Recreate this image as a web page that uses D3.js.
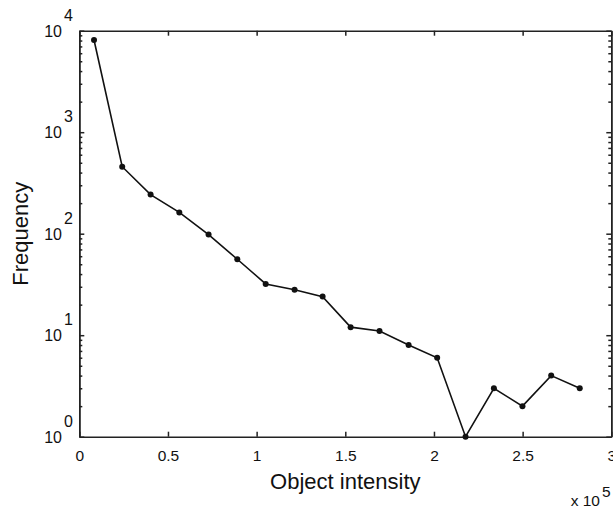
<!DOCTYPE html>
<html>
<head>
<meta charset="utf-8">
<script src="https://cdn.jsdelivr.net/npm/d3@7"></script>
<style>
  body { margin: 0; background: #fff; }
  text { font-family: "Liberation Sans", Arial, sans-serif; fill: #111; }
  .axis path, .axis line { stroke: #222; stroke-width: 1.5; }
  .axis text { font-size: 15.5px; }
</style>
</head>
<body>
<div id="chart"></div>
<script>
// histogram bin centres (x 10^5) and counts
var intensity = [0.083, 0.242, 0.402, 0.564, 0.729, 0.891, 1.051, 1.214, 1.372,
                 1.530, 1.693, 1.857, 2.018, 2.178, 2.338, 2.499, 2.661, 2.822];
var frequency = [8100, 457, 243, 162, 98, 56, 32, 28, 24,
                 12, 11, 8, 6, 1, 3, 2, 4, 3];

var xTicks = [0, 0.5, 1, 1.5, 2, 2.5, 3];
var xTickLabels = ["0", "0.5", "1", "1.5", "2", "2.5", "3"];
var yDecades = [1, 10, 100, 1000, 10000];
var yExponents = ["0", "1", "2", "3", "4"];

var data = intensity.map(function(d, i) { return {x: d, y: frequency[i]}; });

var W = 613, H = 508;
var margin = {top: 30.7, right: 1.7, bottom: 71.3, left: 79.3},
    width = W - margin.left - margin.right,
    height = H - margin.top - margin.bottom;

var xScale = d3.scaleLinear().domain([0, 3]).range([0, width]);
var yScale = d3.scaleLog().domain([1, 10000]).range([height, 0]);

// minor ticks 2..9 within each decade
var yMinor = [];
yDecades.slice(0, -1).forEach(function(d) {
    for (var k = 2; k <= 9; k++) yMinor.push(d * k);
});

var svg = d3.select("#chart").append("svg")
    .attr("width", W)
    .attr("height", H)
    .append("g")
    .attr("transform", "translate(" + margin.left + "," + margin.top + ")");

// bottom axis, ticks pointing inside
svg.append("g")
    .attr("class", "x axis")
    .attr("transform", "translate(0," + height + ")")
    .call(d3.axisBottom(xScale)
        .tickValues(xTicks)
        .tickFormat(function(d, i) { return xTickLabels[i]; })
        .tickSizeInner(-5).tickSizeOuter(0).tickPadding(13));

// top axis, no labels
svg.append("g")
    .attr("class", "axis")
    .call(d3.axisTop(xScale).tickValues(xTicks).tickFormat("")
        .tickSizeInner(-5).tickSizeOuter(0));

// left and right axes: major + minor ticks
svg.append("g")
    .attr("class", "axis")
    .call(d3.axisLeft(yScale).tickValues(yDecades).tickFormat("")
        .tickSizeInner(-5).tickSizeOuter(0));
svg.append("g")
    .attr("class", "axis")
    .call(d3.axisLeft(yScale).tickValues(yMinor).tickFormat("")
        .tickSizeInner(-3).tickSizeOuter(0));
svg.append("g")
    .attr("class", "axis")
    .attr("transform", "translate(" + width + ",0)")
    .call(d3.axisRight(yScale).tickValues(yDecades).tickFormat("")
        .tickSizeInner(-5).tickSizeOuter(0));
svg.append("g")
    .attr("class", "axis")
    .attr("transform", "translate(" + width + ",0)")
    .call(d3.axisRight(yScale).tickValues(yMinor).tickFormat("")
        .tickSizeInner(-3).tickSizeOuter(0));

// y labels as 10 with superscript exponent
var ylab = svg.append("g").attr("class", "ylabels");
yDecades.forEach(function(d, i) {
    ylab.append("text")
        .attr("x", -17.3).attr("y", yScale(d) + 6)
        .attr("text-anchor", "end")
        .style("font-size", "16px")
        .text("10");
    ylab.append("text")
        .attr("x", -15.3).attr("y", yScale(d) - 10)
        .style("font-size", "16px")
        .text(yExponents[i]);
});

// the line and markers
var line = d3.line()
    .x(function(d) { return xScale(d.x); })
    .y(function(d) { return yScale(d.y); });

svg.append("path")
    .datum(data)
    .attr("fill", "none")
    .attr("stroke", "#111")
    .attr("stroke-width", 1.6)
    .attr("d", line);

svg.selectAll(".dot")
    .data(data)
    .enter().append("circle")
    .attr("class", "dot")
    .attr("cx", function(d) { return xScale(d.x); })
    .attr("cy", function(d) { return yScale(d.y); })
    .attr("r", 3)
    .attr("fill", "#111");

// axis titles
svg.append("text")
    .attr("x", width / 2).attr("y", height + 52.5)
    .attr("text-anchor", "middle")
    .style("font-size", "22px")
    .text("Object intensity");

svg.append("text")
    .attr("transform", "translate(" + (28 - margin.left) + "," + (height / 2) + ") rotate(-90)")
    .attr("text-anchor", "middle")
    .style("font-size", "22px")
    .text("Frequency");

// x 10^5 multiplier
svg.append("text")
    .attr("x", 600 - margin.left).attr("y", 506 - margin.top)
    .attr("text-anchor", "end")
    .style("font-size", "15.5px")
    .text("x 10");
svg.append("text")
    .attr("x", 602 - margin.left).attr("y", 497 - margin.top)
    .style("font-size", "15.5px")
    .text("5");
</script>
</body>
</html>
